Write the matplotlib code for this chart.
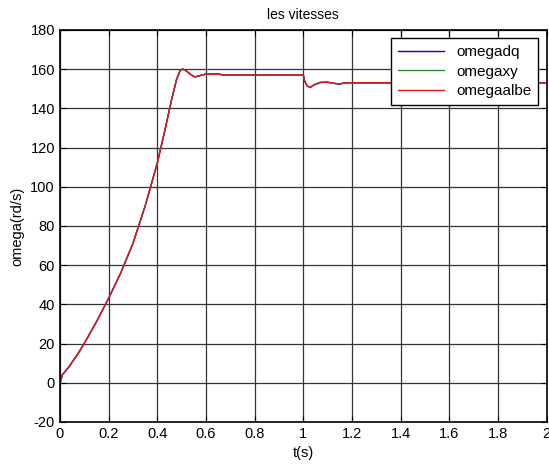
import matplotlib.pyplot as plt

plt.rcParams["font.family"] = ["Liberation Sans", "DejaVu Sans"]
plt.rcParams["axes.unicode_minus"] = False

# speed response samples (time in s, speed in rd/s)
t = [0.0, 0.005, 0.01, 0.02, 0.03, 0.04, 0.05, 0.07, 0.1, 0.15, 0.2, 0.25,
     0.3, 0.35, 0.4, 0.43, 0.46, 0.48, 0.495, 0.505, 0.52, 0.54, 0.555,
     0.57, 0.6, 0.65, 0.67, 1.0, 1.005, 1.015, 1.027, 1.045, 1.07, 1.1,
     1.12, 1.15, 1.17, 2.0]
omega = [0.0, 1.5, 4.0, 5.5, 7.0, 8.5, 10.5, 14.0, 20.0, 31.0, 43.0, 56.0,
         71.0, 90.0, 112.0, 128.0, 145.0, 155.0, 159.5, 160.0, 159.0, 157.0,
         156.0, 156.5, 157.5, 157.5, 157.0, 157.0, 154.0, 151.5, 150.6,
         152.0, 153.2, 153.3, 152.8, 152.4, 153.0, 153.0]

series = {
    "omegadq": ("#0000ff", omega),
    "omegaxy": ("#2e8b2e", omega),
    "omegaalbe": ("#e0141e", omega),
}

fig = plt.figure(figsize=(5.49, 4.67), dpi=100)
ax = fig.add_axes([0.109, 0.0964, 0.887, 0.8396])

for label, (color, values) in series.items():
    ax.plot(t, values, color=color, linewidth=1.0, label=label)

ax.set_xlim(0, 2)
ax.set_ylim(-20, 180)
ax.set_xticks([0, 0.2, 0.4, 0.6, 0.8, 1, 1.2, 1.4, 1.6, 1.8, 2])
ax.set_xticklabels(["0", "0.2", "0.4", "0.6", "0.8", "1", "1.2", "1.4",
                    "1.6", "1.8", "2"])
ax.set_yticks(range(-20, 181, 20))
ax.tick_params(direction="in", length=4, labelsize=10.5, top=True, right=True)
ax.grid(True, color="#333333", linewidth=0.9)
for spine in ax.spines.values():
    spine.set_linewidth(1.2)

ax.set_title("les vitesses", fontsize=10, pad=8)
ax.set_xlabel("t(s)", fontsize=10.5)
ax.set_ylabel("omega(rd/s)", fontsize=10.5)

leg = ax.legend(loc="upper right", fontsize=11, fancybox=False,
                framealpha=1, borderaxespad=0.55, handlelength=3.0,
                labelspacing=0.35, borderpad=0.45)
leg.get_frame().set_edgecolor("black")
leg.get_frame().set_linewidth(1.0)

fig.savefig("out.png", dpi=100)
